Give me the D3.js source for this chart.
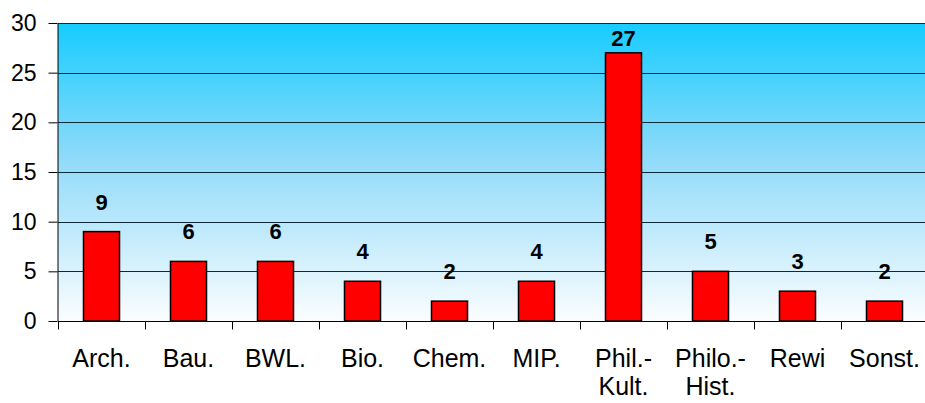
<!DOCTYPE html>
<html>
<head>
<meta charset="utf-8">
<script src="https://cdn.jsdelivr.net/npm/d3@7"></script>
<style>
  html, body { margin: 0; padding: 0; background: #fff; }
  svg { display: block; }
  text { font-family: Arial, "Liberation Sans", sans-serif; }
</style>
</head>
<body>
<svg id="chart" width="925" height="403"></svg>
<script>
// Faculty categories (two-line labels split on "\n")
const categories = ["Arch.", "Bau.", "BWL.", "Bio.", "Chem.", "MIP.", "Phil.-\nKult.", "Philo.-\nHist.", "Rewi", "Sonst."];
const counts = [9, 6, 6, 4, 2, 4, 27, 5, 3, 2];
const yTicks = [0, 5, 10, 15, 20, 25, 30];

const svg = d3.select("#chart");
const margin = { left: 58, top: 23, right: 928, bottom: 321 };

const x = d3.scaleBand().domain(categories).range([margin.left, margin.right]).paddingInner(0).paddingOuter(0);
const y = d3.scaleLinear().domain([0, 30]).range([margin.bottom, margin.top]);

// Background gradient of the plot area
const defs = svg.append("defs");
const grad = defs.append("linearGradient").attr("id", "bg").attr("x1", 0).attr("y1", 0).attr("x2", 0).attr("y2", 1);
grad.append("stop").attr("offset", "0%").attr("stop-color", "#16ccff");
grad.append("stop").attr("offset", "45%").attr("stop-color", "#8fdaf9");
grad.append("stop").attr("offset", "100%").attr("stop-color", "#fbfdff");

svg.append("rect")
  .attr("x", margin.left).attr("y", margin.top)
  .attr("width", margin.right - margin.left).attr("height", margin.bottom - margin.top)
  .attr("fill", "url(#bg)");

// Horizontal grid lines
svg.append("g").selectAll("line").data(yTicks.filter(d => d > 0)).join("line")
  .attr("x1", margin.left).attr("x2", margin.right)
  .attr("y1", d => Math.round(y(d)) + 0.5).attr("y2", d => Math.round(y(d)) + 0.5)
  .attr("stroke", "#0b2a3a").attr("stroke-width", 1);

// Y axis
const yAxis = d3.axisLeft(y).tickValues(yTicks).tickSize(9).tickPadding(12).tickSizeOuter(0);
const gy = svg.append("g").attr("transform", `translate(${margin.left - 0.5},0)`).call(yAxis);
gy.select(".domain").attr("stroke", "#000");
gy.selectAll(".tick line").attr("stroke", "#000");
gy.selectAll(".tick text").attr("font-size", 23).attr("fill", "#000").attr("font-family", "Arial, 'Liberation Sans', sans-serif");

// X axis with boundary ticks between categories
const gx = svg.append("g").attr("transform", `translate(0,${Math.round(margin.bottom) + 0.5})`);
gx.append("line").attr("x1", margin.left).attr("x2", margin.right).attr("stroke", "#000");
const bounds = categories.map(c => x(c));
gx.selectAll(".bt").data(bounds).join("line").attr("class", "bt")
  .attr("x1", d => Math.round(d) + 0.5).attr("x2", d => Math.round(d) + 0.5)
  .attr("y1", 0).attr("y2", 8).attr("stroke", "#000");

// Category labels
const lab = svg.append("g").selectAll("text").data(categories).join("text")
  .attr("text-anchor", "middle").attr("font-size", 25).attr("fill", "#000")
  .attr("transform", d => `translate(${x(d) + x.bandwidth() / 2},367)`);
lab.selectAll("tspan").data(d => d.split("\n")).join("tspan")
  .attr("x", 0).attr("dy", (d, i) => i === 0 ? 0 : 28).text(d => d);

// Bars
const bw = x.bandwidth() * 0.414;
svg.append("g").selectAll("rect").data(categories).join("rect")
  .attr("x", (d) => x(d) + (x.bandwidth() - bw) / 2)
  .attr("y", (d, i) => y(counts[i]))
  .attr("width", bw)
  .attr("height", (d, i) => y(0) - y(counts[i]))
  .attr("fill", "#ff0000").attr("stroke", "#000").attr("stroke-width", 1.5);

// Value labels, kept inside the plot area when a bar reaches near the top
svg.append("g").selectAll("text").data(categories).join("text")
  .attr("x", d => x(d) + x.bandwidth() / 2)
  .attr("y", (d, i) => Math.max(y(counts[i]) - 22, margin.top + 23))
  .attr("text-anchor", "middle").attr("font-size", 22).attr("font-weight", "bold").attr("fill", "#000")
  .text((d, i) => counts[i]);
</script>
</body>
</html>
